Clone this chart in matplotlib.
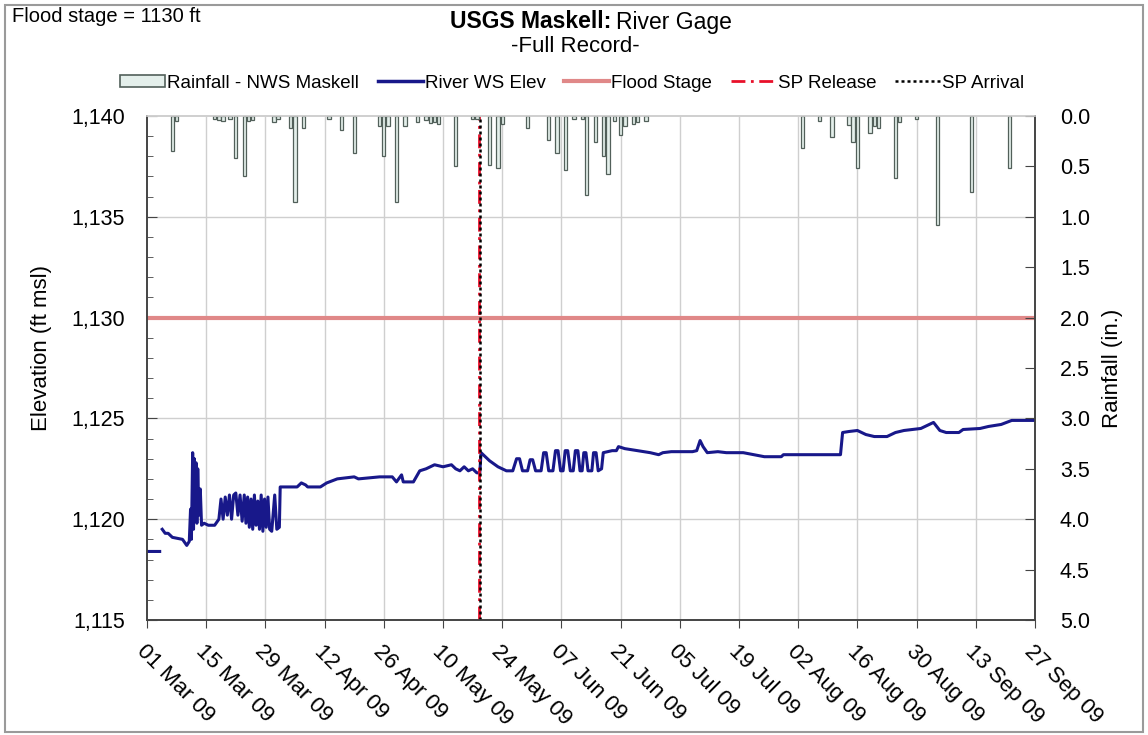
import numpy as np
import pandas as pd
import matplotlib
matplotlib.use('Agg')
import matplotlib.pyplot as plt
import matplotlib.dates as mdates
from matplotlib.patches import Rectangle, Patch
from matplotlib.lines import Line2D
from matplotlib.ticker import FuncFormatter, MultipleLocator

plt.rcParams['font.family'] = ['Liberation Sans', 'DejaVu Sans']

start = pd.Timestamp('2009-03-01')

# rainfall (in.) - day offset from 01 Mar 09
rain_days = [6, 7, 16, 17, 18, 19.6, 21, 23, 24, 25, 30, 31, 34, 35, 37, 43, 46, 49,
             55, 56, 57, 59, 61, 64, 66, 67, 68, 69, 73, 77, 78, 81, 83, 84, 90, 95,
             97, 99, 101, 103, 104, 106, 108, 109, 110.6, 112, 113, 115, 116, 118,
             155, 159, 162, 166, 167, 168, 171, 172, 173, 177, 178, 182, 187, 195, 204]
rain_in = [0.35, 0.05, 0.03, 0.04, 0.05, 0.03, 0.42, 0.60, 0.05, 0.04, 0.06, 0.03, 0.12,
           0.85, 0.12, 0.03, 0.14, 0.37, 0.10, 0.40, 0.10, 0.85, 0.10, 0.06, 0.04, 0.07,
           0.06, 0.08, 0.50, 0.03, 0.03, 0.49, 0.52, 0.08, 0.12, 0.24, 0.37, 0.54, 0.03,
           0.03, 0.78, 0.26, 0.40, 0.58, 0.05, 0.19, 0.10, 0.08, 0.06, 0.05,
           0.32, 0.05, 0.21, 0.09, 0.26, 0.52, 0.17, 0.10, 0.12, 0.62, 0.06, 0.03,
           1.08, 0.75, 0.52]

# river water-surface elevation (ft msl)
river_days = [0, 3, 3.3,
              3.6, 4.3, 5.0, 6.0, 8.4, 9.4, 10.0, 10.3, 10.5, 10.8, 11.0, 11.2, 11.4,
              11.6, 11.8, 12.0, 12.3, 12.6, 12.9, 13.5, 14.5, 16.0, 17.0, 17.5, 18.0,
              18.5, 19.0, 19.5, 20.0, 20.5, 21.0, 21.5, 22.0, 22.5, 23.0, 23.4, 23.8,
              24.2, 24.6, 25.0, 25.4, 25.8, 26.2, 26.6, 27.0, 27.4, 27.8, 28.2, 28.6,
              29.0, 29.5, 30.2, 30.7, 31.3, 31.5, 33.0, 35.5, 36.5, 37.5, 38.0, 41.0,
              42.5, 45, 49, 50, 55, 58, 59, 60.2, 60.6, 63, 64.5, 66, 68, 70, 72, 73,
              74, 75, 76, 77, 78, 78.7, 79.0, 79.5, 81, 83, 85, 86.5,
              87.4, 88.1, 88.8, 90.0, 90.6, 91.2, 91.9, 93.2, 93.8, 94.4, 95.0, 96.0,
              96.6, 97.2, 97.8, 98.4, 98.9, 99.5, 100.1, 100.8, 101.3, 101.9, 102.4,
              102.9, 103.3, 103.8, 104.3, 105.2, 105.6, 106.2, 106.7, 107.5, 107.9,
              110, 111, 111.5, 113, 116, 119, 121, 122, 124, 129, 130, 130.8, 131.5,
              132.5, 135, 137, 141, 146, 150, 150.5, 152, 164, 164.5, 166, 168, 170,
              172, 175, 177, 179, 183, 185, 186, 187.5, 189, 192, 193, 197, 199, 202,
              204.5, 210]
river_elev = [1118.4, 1118.4, np.nan,
              1119.5, 1119.3, 1119.3, 1119.1, 1119.0, 1118.7, 1118.9, 1120.5, 1119.0,
              1123.3, 1119.5, 1123.0, 1120.0, 1122.8, 1119.8, 1122.5, 1120.2, 1121.5,
              1119.7, 1119.8, 1119.7, 1119.7, 1120.0, 1121.0, 1120.0, 1121.1, 1120.2,
              1121.2, 1120.0, 1121.2, 1121.3, 1120.2, 1121.2, 1119.9, 1121.2, 1119.8,
              1121.1, 1119.6, 1121.0, 1119.5, 1121.2, 1119.7, 1120.9, 1119.5, 1121.2,
              1119.4, 1121.0, 1119.6, 1121.1, 1119.5, 1119.4, 1121.2, 1119.5, 1119.6,
              1121.6, 1121.6, 1121.6, 1121.8, 1121.7, 1121.6, 1121.6, 1121.8, 1122.0,
              1122.1, 1122.0, 1122.1, 1122.1, 1121.85, 1122.2, 1121.85, 1121.85,
              1122.4, 1122.5, 1122.7, 1122.6, 1122.7, 1122.5, 1122.4, 1122.6, 1122.4,
              1122.5, 1122.3, 1122.3, 1123.3, 1123.2, 1122.9, 1122.6, 1122.4, 1122.4,
              1123.0, 1123.0, 1122.4, 1122.4, 1122.95, 1122.95, 1122.4, 1122.4,
              1123.3, 1123.3, 1122.4, 1122.4, 1123.4, 1123.4, 1122.4, 1122.4, 1123.4,
              1123.4, 1122.4, 1122.4, 1123.4, 1123.4, 1122.4, 1122.4, 1123.3, 1123.3,
              1122.4, 1122.4, 1123.3, 1123.3, 1122.4, 1122.5, 1123.3,
              1123.4, 1123.4, 1123.6, 1123.5, 1123.4, 1123.3, 1123.2, 1123.3,
              1123.35, 1123.35, 1123.4, 1123.9, 1123.6, 1123.3, 1123.35, 1123.3,
              1123.3, 1123.1, 1123.1, 1123.2, 1123.2, 1123.2, 1124.3, 1124.35, 1124.4,
              1124.2, 1124.1, 1124.1, 1124.3, 1124.4, 1124.5, 1124.7, 1124.8, 1124.4,
              1124.3, 1124.3, 1124.45, 1124.5, 1124.6, 1124.7, 1124.9, 1124.9]

flood_stage = 1130
sp_release_day = 78.6
sp_arrival_day = 78.8

rain_dates = start + pd.to_timedelta(rain_days, unit='D')
river_dates = start + pd.to_timedelta(river_days, unit='D')
tick_dates = pd.date_range('2009-03-01', '2009-09-27', freq='14D')

W, H = 1148, 735
fig = plt.figure(figsize=(W / 100, H / 100), dpi=100)
fig.patches.append(Rectangle((5 / W, 3 / H), 1138 / W, 727 / H, transform=fig.transFigure,
                             fill=False, edgecolor='#9a9a9a', lw=1.5))
ax = fig.add_axes([147 / W, 1 - 620 / H, (1035 - 147) / W, (620 - 116) / H])
ax2 = ax.twinx()

grid_c = '#cfcfcf'
ax.set_ylim(1115, 1140)
ax.set_xlim(tick_dates[0], tick_dates[-1])
for d in tick_dates[1:-1]:
    ax.axvline(d, color=grid_c, lw=1, zorder=0)
for y in [1120, 1125, 1130, 1135]:
    ax.axhline(y, color=grid_c, lw=1, zorder=0)

ax.axhline(flood_stage, color='#e08888', lw=3, zorder=2)
ax.plot(river_dates, river_elev, color='#18188a', lw=2.2, zorder=3)
ax.axvline(start + pd.Timedelta(days=sp_release_day), color='#e8102a', lw=2,
           ls=(0, (5, 2, 1, 2)), zorder=4)
ax.axvline(start + pd.Timedelta(days=sp_arrival_day), color='black', lw=1.8,
           ls=(0, (1.2, 1.2)), zorder=5)

ax2.bar(rain_dates, rain_in, width=0.8, color='#e4efeb', edgecolor='#52605a', lw=0.9)
ax2.set_ylim(5, 0)
ax2.yaxis.set_major_locator(MultipleLocator(0.5))
ax2.yaxis.set_major_formatter(FuncFormatter(lambda v, p: f'{v:.1f}'))

ax.set_xticks(tick_dates)
ax.xaxis.set_major_formatter(mdates.DateFormatter('%d %b %y'))
for lab in ax.get_xticklabels():
    lab.set_rotation(-45)
    lab.set_ha('left')
    lab.set_va('top')
    lab.set_rotation_mode('anchor')
ax.yaxis.set_major_locator(MultipleLocator(5))
ax.yaxis.set_minor_locator(MultipleLocator(1))
ax.yaxis.set_major_formatter(FuncFormatter(lambda v, p: f'{v:,.0f}'))

ax.tick_params(axis='x', direction='out', length=6, labelsize=16, pad=9, color='#444444')
ax.tick_params(axis='y', which='both', direction='in', labelsize=15.5, pad=16,
               color='#444444')
ax.tick_params(axis='y', which='major', length=7)
ax.tick_params(axis='y', which='minor', length=4)
ax2.tick_params(axis='y', direction='in', length=7, labelsize=15.5, pad=18, color='#444444')
for a in (ax, ax2):
    for s in a.spines.values():
        s.set_color('#444444')
        s.set_linewidth(1.2)
    a.spines['top'].set_color(grid_c)

ax.set_ylabel('Elevation (ft msl)', fontsize=16)
ax.yaxis.set_label_coords(-0.107, 0.54)
ax2.set_ylabel('Rainfall (in.)', fontsize=16)
ax2.yaxis.set_label_coords(1.075, 0.5)

fig.text(611 / W, 1 - 22 / H, 'USGS Maskell:', ha='right', va='center', fontsize=16.5,
         fontweight='bold')
fig.text(616 / W, 1 - 22 / H, 'River Gage', ha='left', va='center', fontsize=16.5)
fig.text(575 / W, 1 - 46 / H, '-Full Record-', ha='center', va='center', fontsize=16)
fig.text(12 / W, 1 - 17 / H, 'Flood stage = 1130 ft', ha='left', va='center', fontsize=14.5)

handles = [Patch(facecolor='#e4efeb', edgecolor='#52605a', lw=1.2),
           Line2D([], [], color='#18188a', lw=2.5),
           Line2D([], [], color='#e08888', lw=3),
           Line2D([], [], color='#e8102a', lw=2, ls=(0, (5, 2, 1, 2))),
           Line2D([], [], color='black', lw=1.8, ls=(0, (1.2, 1.2)))]
labels = ['Rainfall - NWS Maskell', 'River WS Elev', 'Flood Stage', 'SP Release', 'SP Arrival']
fig.legend(handles, labels, loc='center', bbox_to_anchor=(572 / W, 1 - 83 / H), ncol=5,
           frameon=False, fontsize=13.5, handlelength=2.4, handletextpad=0.1,
           columnspacing=1.0, handleheight=0.55)

fig.savefig('out.png', dpi=100, facecolor='white')
